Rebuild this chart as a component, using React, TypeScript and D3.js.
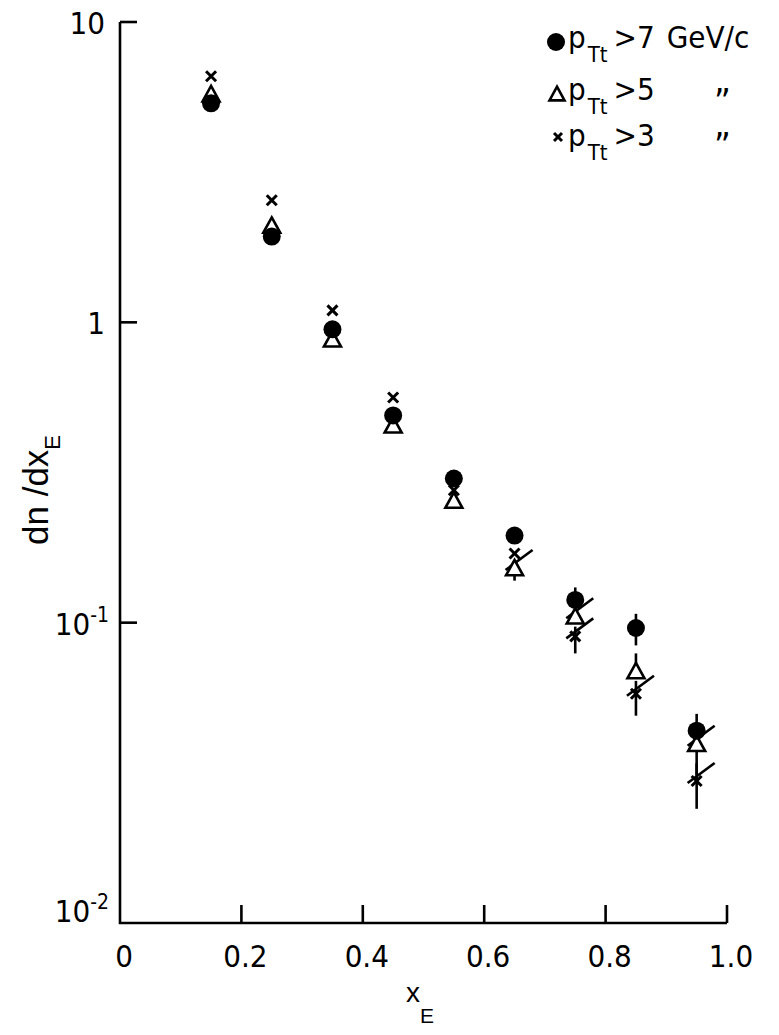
import React from 'react';
import * as d3 from 'd3';

// x_E bin centres
const xE = [0.15, 0.25, 0.35, 0.45, 0.55, 0.65, 0.75, 0.85, 0.95];

// dn/dx_E for the three trigger thresholds
const pt7 = [5.36, 1.93, 0.948, 0.49, 0.302, 0.195, 0.119, 0.096, 0.0437];
const pt5 = [5.75, 2.1, 0.878, 0.454, 0.255, 0.152, 0.105, 0.069, 0.0395];
const pt3 = [6.6, 2.55, 1.096, 0.562, 0.276, 0.17, 0.09, 0.058, 0.0297];

// error bars: [index, low, high]
const pt7Err = [[6, 0.119, 0.131], [7, 0.084, 0.107], [8, 0.0437, 0.0497]];
const pt5Err = [[5, 0.138, 0.152], [7, 0.069, 0.079], [8, 0.031, 0.0395]];
const pt3Err = [[6, 0.079, 0.097], [7, 0.049, 0.064], [8, 0.024, 0.034]];

// points carrying a slash mark
const pt5Slash = [5, 6, 8];
const pt3Slash = [6, 7, 8];

const xTicks = [0, 0.2, 0.4, 0.6, 0.8, 1.0];
const xTickLabels = ['0', '0.2', '0.4', '0.6', '0.8', '1.0'];
const yTicks = [10, 1, 0.1, 0.01];

const W = 779;
const H = 1035;
const font = "'DejaVu Sans Condensed', 'Liberation Sans', sans-serif";
const sw = 2.6;

const x = d3.scaleLinear().domain([0, 1]).range([120, 727]);
const y = d3.scaleLog().domain([0.01, 10]).range([923, 22]);

const Triangle = ({ cx, cy, s = 17 }) => {
  const h = s * 0.85;
  const p = d3.path();
  p.moveTo(cx, cy - h / 2 - 1);
  p.lineTo(cx + s / 2, cy + h / 2);
  p.lineTo(cx - s / 2, cy + h / 2);
  p.closePath();
  return <path d={p.toString()} fill="white" stroke="black" strokeWidth={sw} strokeLinejoin="miter" />;
};

const Cross = ({ cx, cy, s = 5 }) => (
  <g stroke="black" strokeWidth={sw + 0.4}>
    <line x1={cx - s} y1={cy - s} x2={cx + s} y2={cy + s} />
    <line x1={cx - s} y1={cy + s} x2={cx + s} y2={cy - s} />
  </g>
);

const ErrBars = ({ errs }) => (
  <g stroke="black" strokeWidth={sw}>
    {errs.map(([i, lo, hi]) => (
      <line key={i} x1={x(xE[i])} x2={x(xE[i])} y1={y(lo)} y2={y(hi)} />
    ))}
  </g>
);

const Slashes = ({ idx, vals }) => (
  <g stroke="black" strokeWidth={sw}>
    {idx.map((i) => {
      const cx = x(xE[i]);
      const cy = y(vals[i]);
      return <line key={i} x1={cx - 9} y1={cy + 2} x2={cx + 18} y2={cy - 18} />;
    })}
  </g>
);

const App = () => {
  return (
    <svg width={W} height={H} style={{ position: 'absolute', left: 0, top: 0, background: 'white' }}>
      <rect width={W} height={H} fill="white" />

      {/* axes */}
      <g stroke="black" strokeWidth={sw} fill="none">
        <path d={`M${x(0)},${y(10)}V${y(0.01)}H${x(1)}`} />
        {xTicks.slice(1).map((t) => (
          <line key={t} x1={x(t)} x2={x(t)} y1={y(0.01)} y2={y(0.01) - 18} />
        ))}
        {yTicks.slice(0, 3).map((t) => (
          <line key={t} x1={x(0)} x2={x(0) + 17} y1={y(t)} y2={y(t)} />
        ))}
      </g>

      {/* x tick labels */}
      <g fontFamily={font} fontSize={31} textAnchor="middle">
        {xTicks.map((t, i) => (
          <text key={t} x={x(t) + 4} y={967}>{xTickLabels[i]}</text>
        ))}
      </g>

      {/* y tick labels */}
      <g fontFamily={font} fontSize={31} textAnchor="end">
        <text x={105} y={y(10) + 12}>10</text>
        <text x={105} y={y(1) + 12}>1</text>
        <text x={109} y={y(0.1) + 12}>
          10<tspan fontSize={21} dy={-13}>-1</tspan>
        </text>
        <text x={109} y={y(0.01) - 1}>
          10<tspan fontSize={21} dy={-13}>-2</tspan>
        </text>
      </g>

      {/* axis titles */}
      <text
        fontFamily="'Liberation Sans', sans-serif"
        fontSize={35}
        transform="translate(48,545) rotate(-90)"
      >
        dn /dx<tspan fontSize={22} dy={12}>E</tspan>
      </text>
      <text fontFamily="'Liberation Sans', sans-serif" fontSize={28} x={406} y={1002}>
        x<tspan fontSize={21} dy={21}>E</tspan>
      </text>

      {/* data */}
      <ErrBars errs={pt5Err} />
      <ErrBars errs={pt3Err} />
      <ErrBars errs={pt7Err} />
      <Slashes idx={pt5Slash} vals={pt5} />
      <Slashes idx={pt3Slash} vals={pt3} />
      {pt5.map((v, i) => (
        <Triangle key={`t${i}`} cx={x(xE[i])} cy={y(v)} />
      ))}
      {pt7.map((v, i) => (
        <circle key={`c${i}`} cx={x(xE[i])} cy={y(v)} r={9} fill="black" />
      ))}
      {pt3.map((v, i) => (
        <Cross key={`x${i}`} cx={x(xE[i])} cy={y(v)} />
      ))}

      {/* legend */}
      <g fontFamily={font} fontSize={31}>
        <circle cx={556} cy={42} r={9} fill="black" />
        <text x={568} y={48}>
          p<tspan fontSize={22} dy={14} dx={2}>Tt</tspan>
          <tspan dy={-14} dx={6}>{'>7'}</tspan>
          <tspan dx={12}>GeV/c</tspan>
        </text>

        <Triangle cx={557} cy={94} s={15} />
        <text x={568} y={100}>
          p<tspan fontSize={22} dy={14} dx={2}>Tt</tspan>
          <tspan dy={-14} dx={6}>{'>5'}</tspan>
        </text>
        <text x={714} y={114} fontSize={36}>{'\u201D'}</text>

        <Cross cx={558} cy={137} s={4} />
        <text x={568} y={146}>
          p<tspan fontSize={22} dy={14} dx={2}>Tt</tspan>
          <tspan dy={-14} dx={6}>{'>3'}</tspan>
        </text>
        <text x={714} y={158} fontSize={36}>{'\u201D'}</text>
      </g>
    </svg>
  );
};

export default App;
